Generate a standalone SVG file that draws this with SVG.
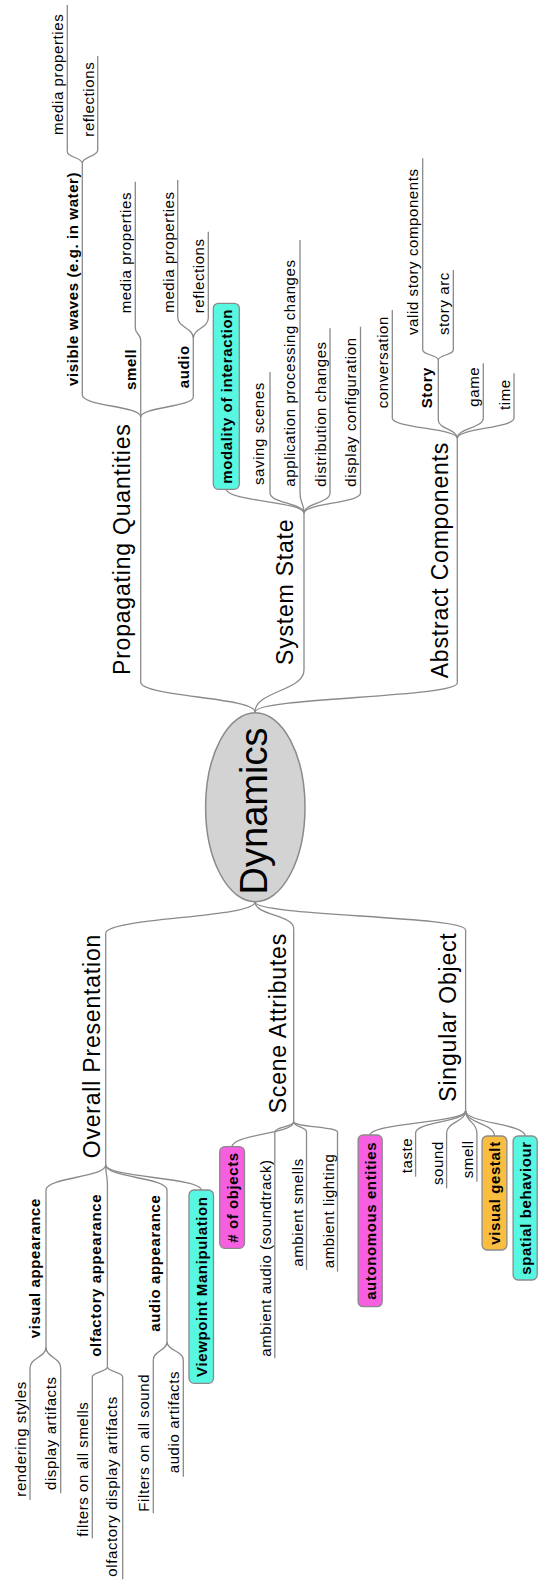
<svg xmlns="http://www.w3.org/2000/svg" width="540" height="1585" viewBox="0 0 540 1585">
<style>
text{font-family:'Liberation Sans',Arial,sans-serif;fill:#000}
.l1{font-size:23px;letter-spacing:0.8px}
.s{font-size:15px;letter-spacing:0.6px}
.b{font-weight:bold}
.m{text-anchor:middle}
.root{font-size:38px;text-anchor:middle}
.ul,.cn{fill:none;stroke:#8a8a8a;stroke-width:1.3}
.box{stroke:#8a8a8a;stroke-width:1.3}
.cy{fill:#58f7e1}.mg{fill:#f660e0}.or{fill:#fbbd40}
</style>
<rect width="540" height="1585" fill="#fff"/>
<g id="connectors" class="cn">
<path d="M255 712C255 697 140.7 697 140.7 682"/>
<path d="M255 712C255 691 304 691 304 670"/>
<path d="M255 712C255 697.5 457.3 697.5 457.3 683"/>
<path d="M140.7 417C140.7 406 82.3 406 82.3 395"/>
<path d="M140.7 417L140.7 410"/>
<path d="M140.7 417C140.7 407 193.3 407 193.3 397"/>
<path d="M140.7 340C140.7 334 135.3 334 135.3 328"/>
<path d="M193.3 338.3C193.3 327.7 177.7 327.7 177.7 317"/>
<path d="M193.3 338.3C193.3 328.2 208.3 328.2 208.3 318"/>
<path d="M82.3 163.3C82.3 157.5 67.3 157.5 67.3 151.7"/>
<path d="M82.3 163.3C82.3 156.7 97.7 156.7 97.7 150"/>
<path d="M304 513.3C304 501.3 226.3 501.3 226.3 489.3"/>
<path d="M304 513.3C304 503.2 270 503.2 270 493"/>
<path d="M304 513.3C304 503.2 300 503.2 300 493"/>
<path d="M304 513.3C304 503.2 330 503.2 330 493"/>
<path d="M304 513.3C304 503.2 360.5 503.2 360.5 493"/>
<path d="M457.3 438.3C457.3 428.2 392.3 428.2 392.3 418"/>
<path d="M457.3 438.3C457.3 429.2 438.3 429.2 438.3 420"/>
<path d="M457.3 438.3C457.3 428.2 483.3 428.2 483.3 418"/>
<path d="M457.3 438.3C457.3 428.2 514 428.2 514 418"/>
<path d="M438.3 360C438.3 355 422.7 355 422.7 350"/>
<path d="M438.3 360C438.3 355 453.3 355 453.3 350"/>
<path d="M255 902C255 917.7 105.7 917.7 105.7 933.3"/>
<path d="M255 902C255 915.2 293.7 915.2 293.7 928.3"/>
<path d="M255 902C255 916 465.6 916 465.6 930"/>
<path d="M105.7 1165C105.7 1177.5 46 1177.5 46 1190"/>
<path d="M105.7 1165C105.7 1175 107.4 1175 107.4 1185"/>
<path d="M105.7 1165C105.7 1177.5 167 1177.5 167 1190"/>
<path d="M105.7 1165C105.7 1177.5 201.2 1177.5 201.2 1190"/>
<path d="M46 1347C46 1357.5 30 1357.5 30 1368"/>
<path d="M46 1347C46 1357.5 60.7 1357.5 60.7 1368"/>
<path d="M107.4 1366.7C107.4 1371.8 92.3 1371.8 92.3 1377"/>
<path d="M107.4 1366.7C107.4 1371.8 122.7 1371.8 122.7 1377"/>
<path d="M167 1341.7C167 1350.8 153.3 1350.8 153.3 1360"/>
<path d="M167 1341.7C167 1350.8 183.3 1350.8 183.3 1360"/>
<path d="M293.7 1121.7C293.7 1134.2 232.1 1134.2 232.1 1146.7"/>
<path d="M293.7 1121.7C293.7 1126.9 274.8 1126.9 274.8 1132"/>
<path d="M293.7 1121.7C293.7 1126.9 306.5 1126.9 306.5 1132"/>
<path d="M293.7 1121.7C293.7 1126.9 337.5 1126.9 337.5 1132"/>
<path d="M465.6 1110.7C465.6 1122.9 370.1 1122.9 370.1 1135"/>
<path d="M465.6 1110.7C465.6 1121.9 415.6 1121.9 415.6 1133"/>
<path d="M465.6 1110.7C465.6 1121.9 446.6 1121.9 446.6 1133"/>
<path d="M465.6 1110.7C465.6 1121.9 476.9 1121.9 476.9 1133"/>
<path d="M465.6 1110.7C465.6 1123.4 494.5 1123.4 494.5 1136"/>
<path d="M465.6 1110.7C465.6 1123.4 525.1 1123.4 525.1 1136"/>
</g>
<g id="root">
<ellipse cx="255.3" cy="807.2" rx="49.7" ry="94.5" fill="#d3d3d3" stroke="#8a8a8a" stroke-width="1.5"/>
<text class="root" transform="translate(267,811) rotate(-90)">Dynamics</text>
</g>
<g id="propagating"><path class="ul" d="M140.7 682V417"/><text class="l1" transform="translate(129.5,675) rotate(-90)">Propagating Quantities</text></g>
<g id="visible-waves"><path class="ul" d="M82.3 395V163.3"/><text class="s b" transform="translate(77.5,386) rotate(-90)">visible waves (e.g. in water)</text></g>
<g id="vw-media"><path class="ul" d="M67.3 151.7V5"/><text class="s" transform="translate(63,135) rotate(-90)">media properties</text></g>
<g id="vw-reflections"><path class="ul" d="M97.7 150V56"/><text class="s" transform="translate(94,136.7) rotate(-90)">reflections</text></g>
<g id="smell-top"><path class="ul" d="M140.7 410V340"/><text class="s b" transform="translate(136,390) rotate(-90)">smell</text></g>
<g id="smell-media"><path class="ul" d="M135.3 328V181.7"/><text class="s" transform="translate(131,313.3) rotate(-90)">media properties</text></g>
<g id="audio-top"><path class="ul" d="M193.3 397V338.3"/><text class="s b" transform="translate(189,388.3) rotate(-90)">audio</text></g>
<g id="audio-media"><path class="ul" d="M177.7 317V180"/><text class="s" transform="translate(173.5,312.7) rotate(-90)">media properties</text></g>
<g id="audio-reflections"><path class="ul" d="M208.3 318V231.7"/><text class="s" transform="translate(204,313.3) rotate(-90)">reflections</text></g>
<g id="system-state"><path class="ul" d="M304 670V513.3"/><text class="l1" transform="translate(293,665) rotate(-90)">System State</text></g>
<g id="modality"><rect class="box cy" x="213.3" y="303.3" width="26" height="186" rx="5"/><text class="s b m" transform="translate(232.3,396.3) rotate(-90)">modality of interaction</text></g>
<g id="saving"><path class="ul" d="M270 493V372"/><text class="s" transform="translate(264,485) rotate(-90)">saving scenes</text></g>
<g id="app-proc"><path class="ul" d="M300 493V240"/><text class="s" transform="translate(294.5,486.7) rotate(-90)">application processing changes</text></g>
<g id="distribution"><path class="ul" d="M330 493V328.3"/><text class="s" transform="translate(325.5,486.7) rotate(-90)">distribution changes</text></g>
<g id="display-config"><path class="ul" d="M360.5 493V326.7"/><text class="s" transform="translate(356,486.7) rotate(-90)">display configuration</text></g>
<g id="abstract"><path class="ul" d="M457.3 683V438.3"/><text class="l1" transform="translate(448,678.3) rotate(-90)">Abstract Components</text></g>
<g id="conversation"><path class="ul" d="M392.3 418V310"/><text class="s" transform="translate(388,408.3) rotate(-90)">conversation</text></g>
<g id="story"><path class="ul" d="M438.3 420V360"/><text class="s b" transform="translate(431.5,408.3) rotate(-90)">Story</text></g>
<g id="valid-story"><path class="ul" d="M422.7 350V158.3"/><text class="s" transform="translate(418,335) rotate(-90)">valid story components</text></g>
<g id="story-arc"><path class="ul" d="M453.3 350V270"/><text class="s" transform="translate(449,335) rotate(-90)">story arc</text></g>
<g id="game"><path class="ul" d="M483.3 418V363.3"/><text class="s" transform="translate(479,406.7) rotate(-90)">game</text></g>
<g id="time"><path class="ul" d="M514 418V373.3"/><text class="s" transform="translate(509.5,410) rotate(-90)">time</text></g>
<g id="overall"><path class="ul" d="M105.7 933.3V1165"/><text class="l1" transform="translate(99.5,1158.3) rotate(-90)">Overall Presentation</text></g>
<g id="visual-appearance"><path class="ul" d="M46 1190V1347"/><text class="s b" transform="translate(40,1338.3) rotate(-90)">visual appearance</text></g>
<g id="rendering"><path class="ul" d="M30 1368V1500"/><text class="s" transform="translate(25.5,1496.7) rotate(-90)">rendering styles</text></g>
<g id="display-artifacts"><path class="ul" d="M60.7 1368V1493.3"/><text class="s" transform="translate(56,1490) rotate(-90)">display artifacts</text></g>
<g id="olfactory"><path class="ul" d="M107.4 1185V1366.7"/><text class="s b" transform="translate(100.5,1356.7) rotate(-90)">olfactory appearance</text></g>
<g id="filters-smells"><path class="ul" d="M92.3 1377V1538.3"/><text class="s" transform="translate(87.5,1536.7) rotate(-90)">filters on all smells</text></g>
<g id="olf-display"><path class="ul" d="M122.7 1377V1579.3"/><text class="s" transform="translate(117,1576.7) rotate(-90)">olfactory display artifacts</text></g>
<g id="audio-appearance"><path class="ul" d="M167 1190V1341.7"/><text class="s b" transform="translate(160,1331.7) rotate(-90)">audio appearance</text></g>
<g id="filters-sound"><path class="ul" d="M153.3 1360V1513.3"/><text class="s" transform="translate(148.5,1511.7) rotate(-90)">Filters on all sound</text></g>
<g id="audio-artifacts"><path class="ul" d="M183.3 1360V1476.7"/><text class="s" transform="translate(179,1473.3) rotate(-90)">audio artifacts</text></g>
<g id="viewpoint"><rect class="box cy" x="189" y="1190" width="24.5" height="193.3" rx="5"/><text class="s b m" transform="translate(206.8,1286.7) rotate(-90)">Viewpoint Manipulation</text></g>
<g id="scene"><path class="ul" d="M293.7 928.3V1121.7"/><text class="l1" transform="translate(286,1113.3) rotate(-90)">Scene Attributes</text></g>
<g id="num-objects"><rect class="box mg" x="219.7" y="1146.7" width="24.8" height="101.6" rx="5"/><text class="s b m" transform="translate(237.8,1197.5) rotate(-90)"># of objects</text></g>
<g id="ambient-audio"><path class="ul" d="M274.8 1132V1358.3"/><text class="s" transform="translate(270.5,1356.7) rotate(-90)">ambient audio (soundtrack)</text></g>
<g id="ambient-smells"><path class="ul" d="M306.5 1132V1270"/><text class="s" transform="translate(302.5,1266.7) rotate(-90)">ambient smells</text></g>
<g id="ambient-lighting"><path class="ul" d="M337.5 1132V1271.7"/><text class="s" transform="translate(333.5,1268.3) rotate(-90)">ambient lighting</text></g>
<g id="singular"><path class="ul" d="M465.6 930V1110.7"/><text class="l1" transform="translate(455.5,1101.7) rotate(-90)">Singular Object</text></g>
<g id="autonomous"><rect class="box mg" x="358.1" y="1135" width="24.1" height="171.7" rx="5"/><text class="s b m" transform="translate(375.9,1220.8) rotate(-90)">autonomous entities</text></g>
<g id="taste"><path class="ul" d="M415.6 1133V1176.7"/><text class="s" transform="translate(411.5,1173.3) rotate(-90)">taste</text></g>
<g id="sound"><path class="ul" d="M446.6 1133V1188.3"/><text class="s" transform="translate(442.5,1185) rotate(-90)">sound</text></g>
<g id="smell-obj"><path class="ul" d="M476.9 1133V1181.7"/><text class="s" transform="translate(472.5,1178.3) rotate(-90)">smell</text></g>
<g id="visual-gestalt"><rect class="box or" x="482.1" y="1136" width="24.8" height="114" rx="5"/><text class="s b m" transform="translate(500.3,1193) rotate(-90)">visual gestalt</text></g>
<g id="spatial"><rect class="box cy" x="513.1" y="1136" width="24.1" height="144" rx="5"/><text class="s b m" transform="translate(530.9,1208) rotate(-90)">spatial behaviour</text></g>
</svg>
